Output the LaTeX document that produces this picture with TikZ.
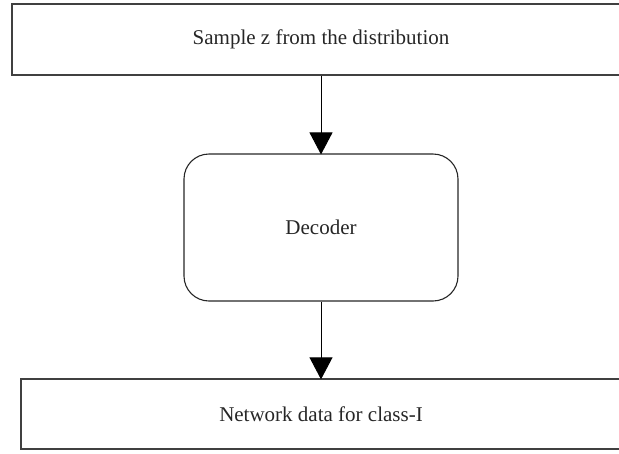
\documentclass[tikz,border=0pt]{standalone}
\usepackage{fontspec}
\setmainfont{Liberation Serif}
\usetikzlibrary{arrows.meta}
\begin{document}
\begin{tikzpicture}[x=1pt,y=-1pt,
  box/.style={draw=black!75, line width=1.3pt, rectangle, inner sep=0pt, text=black!85, font=\fontsize{21}{24}\selectfont},
  rbox/.style={draw=black!85, line width=1.1pt, rectangle, rounded corners=25pt, inner sep=0pt, text=black!85, font=\fontsize{21}{24}\selectfont},
  conn/.style={draw=black, line width=0.9pt, -{Triangle[width=23pt,length=22pt]}, shorten >=-1pt}]
\useasboundingbox (0,0) rectangle (619,453);
\node[box, minimum width=618pt, minimum height=71pt] (top) at (321,39.5) {Sample z from the distribution};
\node[rbox, minimum width=274pt, minimum height=147pt] (dec) at (321,227.5) {Decoder};
\node[box, minimum width=600pt, minimum height=70pt] (bot) at (321,414) {Network data for class-I};
\draw[conn] (top.south) -- (dec.north);
\draw[conn] (dec.south) -- (bot.north);
\end{tikzpicture}
\end{document}
